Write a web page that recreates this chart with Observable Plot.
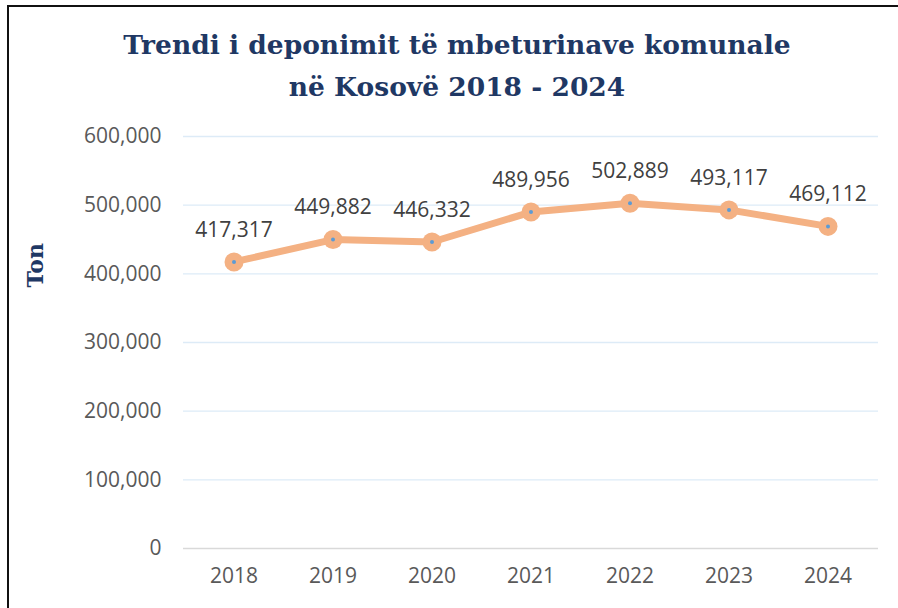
<!DOCTYPE html>
<html><head><meta charset="utf-8">
<script src="https://cdn.jsdelivr.net/npm/d3@7"></script>
<script src="https://cdn.jsdelivr.net/npm/@observablehq/plot@0.6"></script>
<style>
body{margin:0;background:#fff;}
#wrap{position:relative;width:898px;height:608px;overflow:hidden;}
#frame{position:absolute;left:7px;top:5px;width:1000px;height:700px;border-left:2px solid #111;border-top:2px solid #111;}
#title{position:absolute;left:0;width:914px;top:24px;text-align:center;font-family:"DejaVu Serif","Liberation Serif",serif;font-weight:bold;font-size:26.5px;line-height:42px;color:#1F3864;}
#chart{position:absolute;left:0;top:0;}
</style></head>
<body><div id="wrap"><div id="frame"></div><div id="title">Trendi i deponimit të mbeturinave komunale<br>në Kosovë 2018 - 2024</div><div id="chart"></div></div>
<script>
const years = ["2018","2019","2020","2021","2022","2023","2024"];
const tons = [417317, 449882, 446332, 489956, 502889, 493117, 469112];
const yTicks = [0, 100000, 200000, 300000, 400000, 500000, 600000];
const data = years.map((y,i)=>({year:y, value:tons[i]}));
const fmt = d3.format(",");
const chart = Plot.plot({
  width: 898, height: 608,
  marginTop: 136, marginBottom: 60, marginLeft: 183, marginRight: 20,
  style: {fontFamily: "'Open Sans', 'Liberation Sans', sans-serif", fontSize: "21px", color: "#595959", background: "transparent"},
  x: {type: "band", domain: years, padding: 0, label: null, tickSize: 0, tickPadding: 20},
  y: {domain: [0, 600000], ticks: yTicks, tickFormat: fmt, label: null, tickSize: 0, tickPadding: 22},
  marks: [
    Plot.ruleY(yTicks.filter(d=>d>0), {stroke: "#DDEBF7", strokeWidth: 1.3}),
    Plot.ruleY([0], {stroke: "#D9D9D9", strokeWidth: 1.5}),
    Plot.line(data, {x: "year", y: "value", stroke: "#F4B183", strokeWidth: 7}),
    Plot.dot(data, {x: "year", y: "value", r: 9.5, fill: "#F4B183", stroke: null}),
    Plot.dot(data, {x: "year", y: "value", r: 2, fill: "#5B9BD5", stroke: null}),
    Plot.text(data, {x: "year", y: "value", text: d=>fmt(d.value), dy: -32, fontSize: 21, fill: "#404040"}),
    Plot.text(["Ton"], {frameAnchor: "left", dx: -148, dy: -55, rotate: -90, fontFamily: "'DejaVu Serif','Liberation Serif',serif", fontWeight: "bold", fontSize: 22, fill: "#1F3864"})
  ]
});
document.getElementById("chart").appendChild(chart);
</script></body></html>
